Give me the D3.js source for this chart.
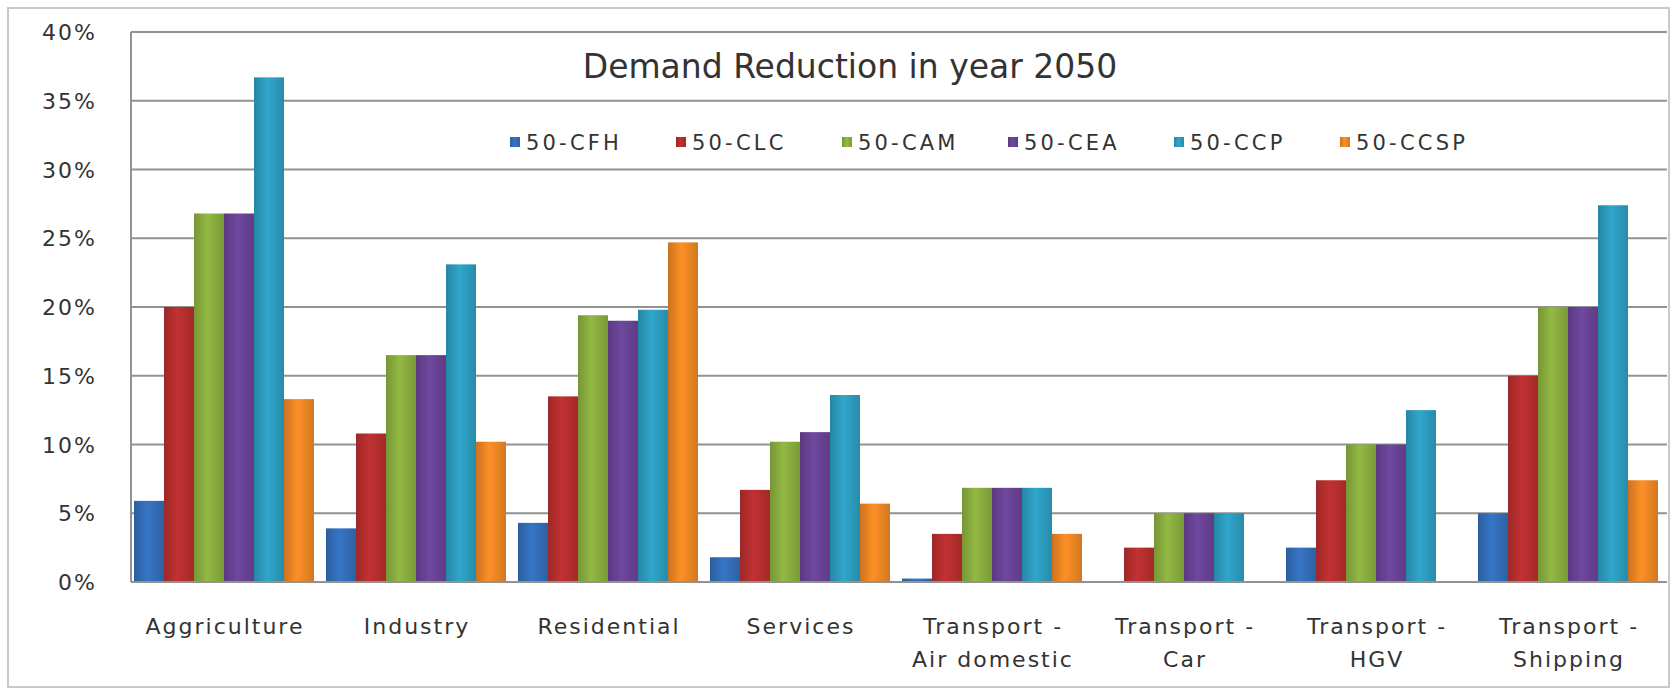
<!DOCTYPE html>
<html>
<head>
<meta charset="utf-8">
<script src="https://cdn.jsdelivr.net/npm/d3@7"></script>
<style>
  html, body { margin: 0; padding: 0; background: #fff; }
  svg { display: block; }
  text { font-family: "DejaVu Sans", Verdana, sans-serif; fill: #333; }
</style>
</head>
<body>
<svg id="chart" width="1674" height="691"></svg>
<script>
// Sector demand reduction (%) for each 2050 scenario
const categories = ["Aggriculture", "Industry", "Residential", "Services",
  "Transport - Air domestic", "Transport - Car", "Transport - HGV", "Transport - Shipping"];
const categoryLines = [["Aggriculture"], ["Industry"], ["Residential"], ["Services"],
  ["Transport -", "Air domestic"], ["Transport -", "Car"], ["Transport -", "HGV"], ["Transport -", "Shipping"]];
const seriesNames = ["50-CFH", "50-CLC", "50-CAM", "50-CEA", "50-CCP", "50-CCSP"];
const cfh  = [5.9, 3.9, 4.3, 1.8, 0.25, 0, 2.5, 5.0];
const clc  = [20.0, 10.8, 13.5, 6.7, 3.5, 2.5, 7.4, 15.0];
const cam  = [26.8, 16.5, 19.4, 10.2, 6.85, 5.0, 10.0, 20.0];
const cea  = [26.8, 16.5, 19.0, 10.9, 6.85, 5.0, 10.0, 20.0];
const ccp  = [36.7, 23.1, 19.8, 13.6, 6.85, 5.0, 12.5, 27.4];
const ccsp = [13.3, 10.2, 24.7, 5.7, 3.5, 0, 0, 7.4];
const yTicks = [0, 5, 10, 15, 20, 25, 30, 35, 40];
const seriesColors = ["#3470bd", "#b9302f", "#8db23f", "#6b4598", "#2ea0c3", "#f28a25"];

const seriesValues = [cfh, clc, cam, cea, ccp, ccsp];
const rows = categories.map((c, i) => ({
  category: c,
  lines: categoryLines[i],
  values: seriesNames.map((s, j) => ({ series: s, value: seriesValues[j][i] }))
}));

const svg = d3.select("#chart");
const plot = { left: 131, right: 1667, top: 32, bottom: 582 };

// outer chart frame
svg.append("rect")
  .attr("x", 8).attr("y", 8)
  .attr("width", 1661).attr("height", 679)
  .attr("fill", "#fff")
  .attr("stroke", "#c9c9c9").attr("stroke-width", 2);

// bar gradients: darker edges, lighter middle
const defs = svg.append("defs");
seriesNames.forEach((s, j) => {
  const base = d3.color(seriesColors[j]);
  const g = defs.append("linearGradient")
    .attr("id", "grad" + j)
    .attr("x1", "0%").attr("x2", "100%").attr("y1", "0%").attr("y2", "0%");
  g.append("stop").attr("offset", "0%").attr("stop-color", base.darker(0.5));
  g.append("stop").attr("offset", "45%").attr("stop-color", base.brighter(0.12));
  g.append("stop").attr("offset", "100%").attr("stop-color", base.darker(0.4));
});

const y = d3.scaleLinear().domain([0, 40]).range([plot.bottom, plot.top]);
const x0 = d3.scaleBand().domain(categories).range([128, 1664]).padding(0);
const gap = 12 / x0.bandwidth();
const x1 = d3.scaleBand().domain(seriesNames)
  .range([x0.bandwidth() * gap / 2, x0.bandwidth() * (1 - gap / 2)])
  .padding(0);

// horizontal gridlines
svg.append("g")
  .selectAll("line")
  .data(yTicks)
  .join("line")
  .attr("x1", plot.left).attr("x2", plot.right)
  .attr("y1", d => y(d)).attr("y2", d => y(d))
  .attr("stroke", "#929292").attr("stroke-width", 2);

// vertical axis line
svg.append("line")
  .attr("x1", plot.left).attr("x2", plot.left)
  .attr("y1", y(40)).attr("y2", y(0))
  .attr("stroke", "#929292").attr("stroke-width", 2);

// y-axis labels
const yAxis = d3.axisLeft(y).tickValues(yTicks).tickFormat(d => d + "%").tickSize(0).tickPadding(0);
const yG = svg.append("g").attr("transform", "translate(97,0)").call(yAxis);
yG.select(".domain").remove();
yG.selectAll("text")
  .attr("font-size", 22)
  .attr("letter-spacing", 2)
  .attr("fill", "#333")
  .attr("font-family", "DejaVu Sans, Verdana, sans-serif")
  .attr("dy", "0.35em");

// bars
const groups = svg.append("g")
  .selectAll("g")
  .data(rows)
  .join("g")
  .attr("transform", d => `translate(${x0(d.category)},0)`);

groups.selectAll("rect")
  .data(d => d.values)
  .join("rect")
  .attr("x", d => x1(d.series))
  .attr("width", x1.bandwidth())
  .attr("y", d => y(d.value))
  .attr("height", d => y(0) - y(d.value))
  .attr("fill", d => `url(#grad${seriesNames.indexOf(d.series)})`);

// baseline over the bars
svg.append("line")
  .attr("x1", plot.left).attr("x2", plot.right)
  .attr("y1", y(0)).attr("y2", y(0))
  .attr("stroke", "#929292").attr("stroke-width", 2);

// category labels
const labels = svg.append("g")
  .selectAll("text")
  .data(rows)
  .join("text")
  .attr("text-anchor", "middle")
  .attr("font-size", 22)
  .attr("letter-spacing", 2)
  .attr("transform", d => `translate(${x0(d.category) + x0.bandwidth() / 2 + 1},634)`);
labels.selectAll("tspan")
  .data(d => d.lines)
  .join("tspan")
  .attr("x", 0)
  .attr("y", (d, i) => i * 33)
  .text(d => d);

// title
svg.append("text")
  .attr("x", 850).attr("y", 78)
  .attr("text-anchor", "middle")
  .attr("font-size", 33)
  .attr("fill", "#3a3a3a")
  .text("Demand Reduction in year 2050");

// legend
const legendStart = 510, legendStep = 166;
const legend = svg.append("g")
  .selectAll("g")
  .data(seriesNames)
  .join("g")
  .attr("transform", (d, i) => `translate(${legendStart + i * legendStep},142)`);
legend.append("rect")
  .attr("x", 0).attr("y", -5)
  .attr("width", 10).attr("height", 10)
  .attr("fill", (d, i) => `url(#grad${i})`);
legend.append("text")
  .attr("x", 16).attr("y", 0)
  .attr("dy", "0.36em")
  .attr("font-size", 21)
  .attr("letter-spacing", 3.2)
  .text(d => d);
</script>
</body>
</html>
